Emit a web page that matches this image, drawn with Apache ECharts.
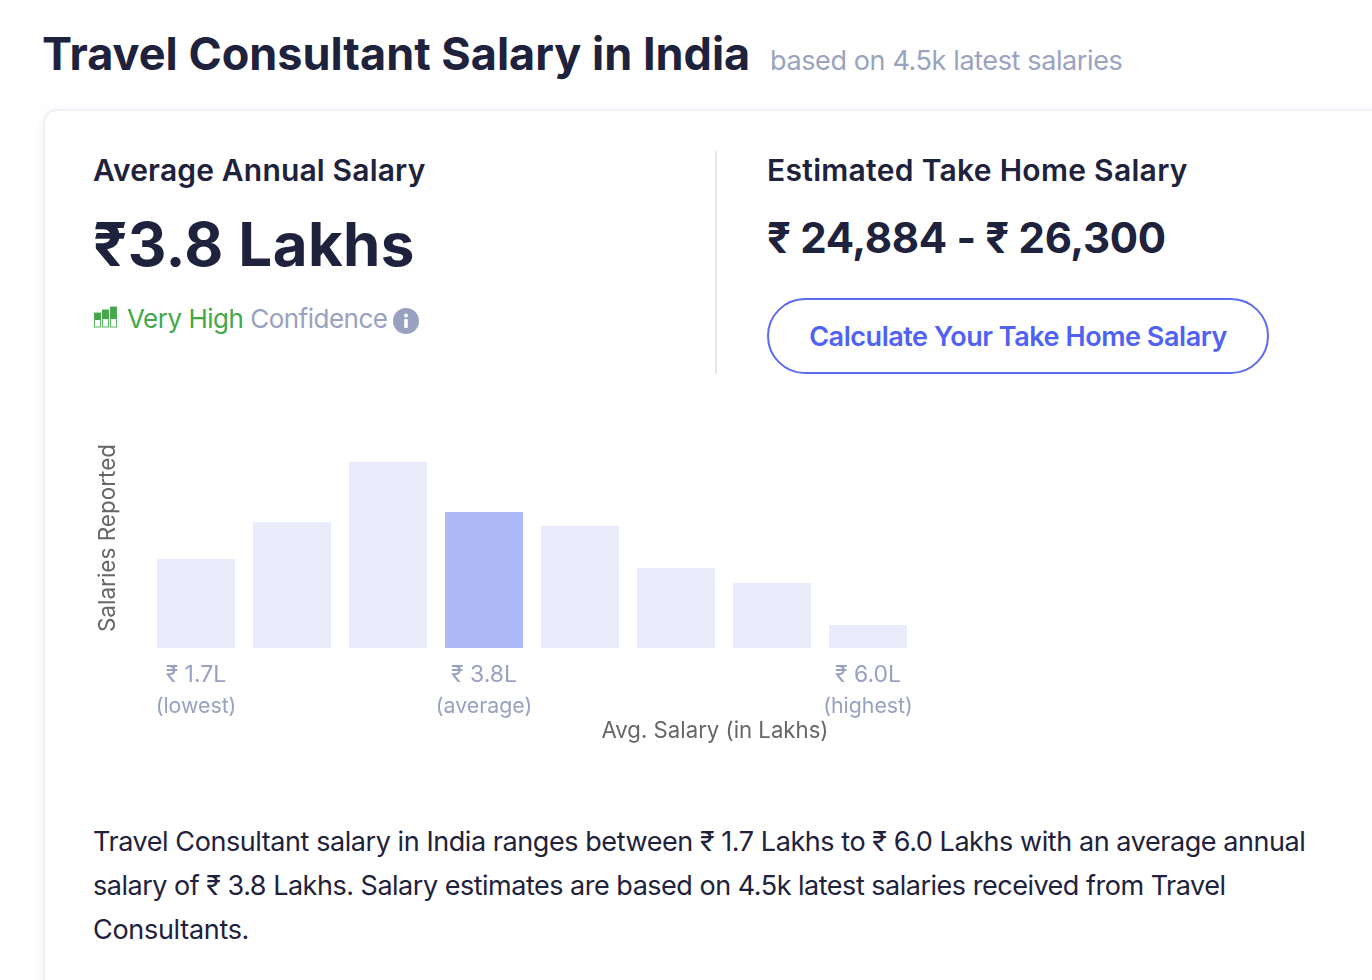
<!DOCTYPE html>
<html><head><meta charset="utf-8">
<style>
html,body{margin:0;padding:0;background:#fff;width:1372px;height:980px;overflow:hidden;font-family:Inter,"Noto Sans",sans-serif;color:#1e223c}
.t{position:absolute;white-space:nowrap;line-height:1}
#card{position:absolute;left:43px;top:109px;width:1400px;height:1000px;border:2px solid #eef1f6;border-radius:14px;box-sizing:border-box;box-shadow:0 0 8px rgba(230,234,245,.5)}
#chart{position:absolute;left:0;top:0;width:1372px;height:980px}
#btn{position:absolute;left:767px;top:298px;width:502px;height:76px;box-sizing:border-box;border:2px solid #5c6cf0;border-radius:38px;color:#4f62f5;font-size:27px;font-weight:600;text-align:center;line-height:74px;letter-spacing:-.45px}
#div{position:absolute;left:715px;top:151px;width:2px;height:223px;background:#e6e8ee}
</style></head><body>
<div id="card"></div>
<div class="t" style="left:42px;top:31px;font-size:45px;font-weight:700;letter-spacing:0">Travel Consultant Salary in India</div>
<div class="t" style="left:770px;top:47px;font-size:27px;color:#9aa3c0;letter-spacing:-.38px">based on 4.5k latest salaries</div>
<div class="t" style="left:93px;top:155px;font-size:30px;font-weight:600;letter-spacing:.17px">Average Annual Salary</div>
<div class="t" style="left:93px;top:214px;font-size:60px;font-weight:700;letter-spacing:.4px">₹3.8 Lakhs</div>
<svg style="position:absolute;left:94px;top:305px" width="24" height="24" viewBox="0 0 24 24">
<g fill="#fff" stroke="#5cb562" stroke-width="1"><rect x=".5" y="8" width="6" height="14"/><rect x="8.5" y="5" width="6" height="17"/><rect x="16.5" y="2" width="6" height="20"/></g>
<g fill="#43a84a"><rect x=".5" y="8" width="6" height="7"/><rect x="8.5" y="5" width="6" height="9"/><rect x="16.5" y="2" width="6" height="12"/></g></svg>
<div class="t" style="left:127px;top:306px;font-size:26px;color:#43a84a;letter-spacing:-.5px">Very High <span style="color:#98a1c0">Confidence</span></div>
<svg style="position:absolute;left:393px;top:308px" width="26" height="26" viewBox="0 0 26 26"><circle cx="13" cy="13" r="13" fill="#98a1c0"/><rect x="11.2" y="11" width="3.6" height="9" rx="1" fill="#fff"/><circle cx="13" cy="7.6" r="2" fill="#fff"/></svg>
<div id="div"></div>
<div class="t" style="left:767px;top:155px;font-size:30px;font-weight:600;letter-spacing:.3px">Estimated Take Home Salary</div>
<div class="t" style="left:767px;top:217px;font-size:42px;font-weight:700;letter-spacing:-.35px">₹ 24,884 - ₹ 26,300</div>
<div id="btn">Calculate Your Take Home Salary</div>
<div class="t" style="left:93px;top:820px;font-size:27px;line-height:44px;letter-spacing:-.43px">Travel Consultant salary in India ranges between ₹ 1.7 Lakhs to ₹ 6.0 Lakhs with an average annual<br><span style="letter-spacing:-.49px">salary of ₹ 3.8 Lakhs. Salary estimates are based on 4.5k latest salaries received from Travel</span><br><span style="letter-spacing:-.3px">Consultants.</span></div>
<div id="chart"></div>
<script src="https://cdn.jsdelivr.net/npm/echarts@6/dist/echarts.min.js"></script>
<script>
const categories = ['1.7', 'b2', 'b3', '3.8', 'b5', 'b6', 'b7', '6.0'];
const tickValues = ['₹ 1.7L', '', '', '₹ 3.8L', '', '', '', '₹ 6.0L'];
const tickNotes = ['(lowest)', '', '', '(average)', '', '', '', '(highest)'];
const salariesReported = [89, 126, 186, 136, 122, 80, 65, 23];
const averageIndex = 3;
const chart = echarts.init(document.getElementById('chart'), null, {renderer: 'canvas'});
chart.setOption({
  animation: false,
  grid: {left: 148, top: 428, width: 768, height: 220, containLabel: false},
  xAxis: {
    type: 'category', data: categories,
    name: 'Avg. Salary (in Lakhs)', nameLocation: 'middle', nameGap: 72,
    nameTextStyle: {color: '#666', fontSize: 22.2, fontFamily: 'Inter', padding: [0, 0, 0, 366]},
    axisLine: {show: false}, axisTick: {show: false},
    axisLabel: {
      interval: 0, margin: 12,
      formatter: (v, i) => tickValues[i] ? '{a|' + tickValues[i] + '}\n{b|' + tickNotes[i] + '}' : '',
      rich: {
        a: {color: '#98a1c0', fontSize: 23, fontFamily: 'Inter', lineHeight: 31},
        b: {color: '#98a1c0', fontSize: 21.3, fontFamily: 'Inter', lineHeight: 31}
      }
    }
  },
  yAxis: {
    type: 'value', min: 0, max: 220, splitLine: {show: false},
    axisLabel: {show: false}, axisLine: {show: false}, axisTick: {show: false},
    name: 'Salaries Reported', nameLocation: 'middle', nameGap: 28, nameRotate: 90,
    nameTextStyle: {color: '#666', fontSize: 22.5, fontFamily: 'Inter'}
  },
  series: [{
    type: 'bar', barWidth: 78,
    data: salariesReported.map((v, i) => ({value: v, itemStyle: {color: i === averageIndex ? '#adb8f8' : '#eaecfb'}})),
    silent: true
  }]
});
</script>
</body></html>
